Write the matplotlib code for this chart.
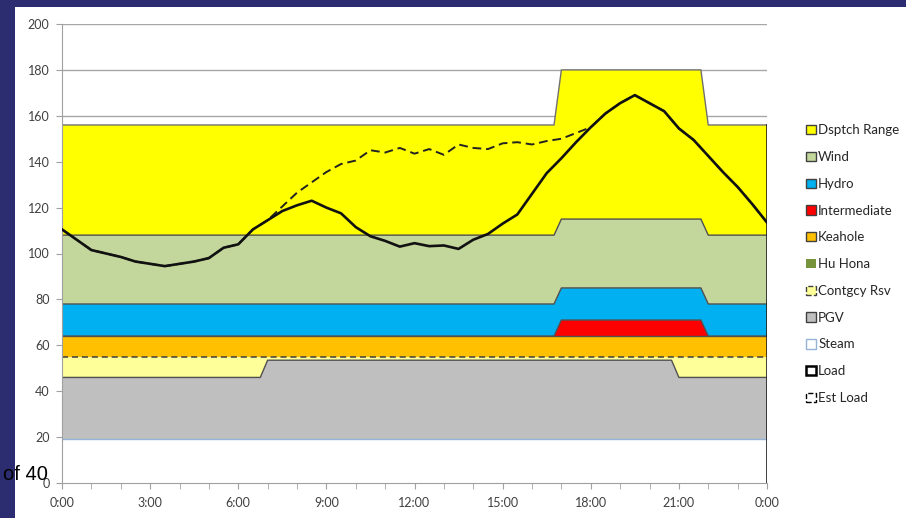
import numpy as np
import matplotlib
matplotlib.use('Agg')
import matplotlib.pyplot as plt
from matplotlib.patches import Patch, Rectangle

# stacked supply blocks, values at the ramp breakpoints (hours)
stack_hours = [0, 6.75, 7, 16.75, 17, 20.75, 21, 21.75, 22, 24]
steam = [19, 19, 19, 19, 19, 19, 19, 19, 19, 19]
pgv = [27, 27, 34.5, 34.5, 34.5, 34.5, 27, 27, 27, 27]
contgcy = [9, 9, 1.5, 1.5, 1.5, 1.5, 9, 9, 9, 9]
hu_hona = [0, 0, 0, 0, 0, 0, 0, 0, 0, 0]
keahole = [9, 9, 9, 9, 9, 9, 9, 9, 9, 9]
intermediate = [0, 0, 0, 0, 7, 7, 7, 7, 0, 0]
hydro = [14, 14, 14, 14, 14, 14, 14, 14, 14, 14]
wind = [30, 30, 30, 30, 30, 30, 30, 30, 30, 30]
dsptch = [48, 48, 48, 48, 65, 65, 65, 65, 48, 48]

# load curves, half-hourly 0:00 .. 24:00
load_hours = np.arange(0, 24.5, 0.5)
load = [110.5, 106, 101.5, 100, 98.5, 96.5, 95.5, 94.5, 95.5, 96.5,
        98, 102.5, 104, 110.5, 114.5, 118.5, 121, 123, 120, 117.5,
        111.5, 107.5, 105.5, 103, 104.5, 103.2, 103.5, 102, 106, 108.5,
        113, 117, 126, 135, 141.5, 148.5, 155, 161, 165.5, 169,
        165.5, 162, 154.5, 149.5, 142.5, 135.5, 129, 121.5, 113.5]
est_load = [110.5, 106, 101.5, 100, 98.5, 96.5, 95.5, 94.5, 95.5, 96.5,
            98, 102.5, 104, 110.5, 114.5, 120.5, 126.5, 131, 135.5, 139,
            140.5, 145, 144, 146, 143.5, 145.5, 143, 147.5, 146, 145.5,
            148, 148.5, 147.5, 149, 150, 152.5, 155, 161, 165.5, 169,
            165.5, 162, 154.5, 149.5, 142.5, 135.5, 129, 121.5, 113.5]

tick_hours = [0, 3, 6, 9, 12, 15, 18, 21, 24]
tick_labels = ['0:00', '3:00', '6:00', '9:00', '12:00', '15:00', '18:00', '21:00', '0:00']

layers = [
    ('Steam', steam, 'white', '#95B3D7', '-'),
    ('PGV', pgv, '#BFBFBF', '#505050', '-'),
    ('Contgcy Rsv', contgcy, '#FFFF99', '#404040', '--'),
    ('Hu Hona', hu_hona, '#77933C', '#505050', '-'),
    ('Keahole', keahole, '#FFC000', '#505050', '-'),
    ('Intermediate', intermediate, '#FF0000', '#505050', '-'),
    ('Hydro', hydro, '#00B0F0', '#505050', '-'),
    ('Wind', wind, '#C3D69B', '#505050', '-'),
    ('Dsptch Range', dsptch, '#FFFF00', '#707070', '-'),
]

fig = plt.figure(figsize=(9.06, 5.18), dpi=100)
fig.patch.set_facecolor('white')
navy = '#2C2D70'
fig.patches.append(Rectangle((0, 1 - 7 / 518), 1, 7 / 518, transform=fig.transFigure,
                             facecolor=navy, edgecolor='none', zorder=0))
fig.patches.append(Rectangle((0, 0), 15 / 906, 1, transform=fig.transFigure,
                             facecolor=navy, edgecolor='none', zorder=0))

ax = fig.add_axes([62 / 906, 1 - 483 / 518, 705 / 906, 459 / 518])
ax.set_facecolor('none')

base = np.zeros(len(stack_hours))
for name, vals, fc, ec, ls in layers:
    top = base + np.array(vals)
    if np.any(np.array(vals) > 0):
        ax.fill_between(stack_hours, base, top, facecolor=fc, edgecolor='none', zorder=1)
        ax.plot(stack_hours, top, color=ec, lw=1.0 if ls == '-' else 1.1,
                ls='-' if ls == '-' else (0, (4, 2.5)), zorder=2)
    base = top
ax.plot([24, 24], [0, base[-1]], color='#202020', lw=1.2, zorder=2)

ax.plot(load_hours, est_load, color='#222222', lw=1.4, ls=(0, (4.5, 2.5)), zorder=3)
ax.plot(load_hours, load, color='#111111', lw=1.9, zorder=4)

ax.set_xlim(0, 24)
ax.set_ylim(0, 200)
ax.set_yticks(range(0, 201, 20))
ax.set_xticks(tick_hours)
ax.set_xticklabels(tick_labels)
ax.set_xticks(range(0, 25), minor=True)
ax.yaxis.grid(True, color='#A6A6A6', lw=1.0)
ax.set_axisbelow(True)
for s in ['top', 'right']:
    ax.spines[s].set_visible(False)
for s in ['left', 'bottom']:
    ax.spines[s].set_color('#A0A0A0')
ax.tick_params(axis='both', which='both', colors='#A0A0A0', length=4, labelcolor='#404040',
               labelsize=9)
ax.tick_params(axis='x', pad=6)
ax.tick_params(axis='y', pad=5)
for lab in ax.get_xticklabels() + ax.get_yticklabels():
    lab.set_family('Lato')

handles = []
for name, vals, fc, ec, ls in reversed(layers):
    if name == 'Hu Hona':
        handles.append(Patch(facecolor=fc, edgecolor='none', label=name))
    elif name == 'Steam':
        handles.append(Patch(facecolor='white', edgecolor='#95B3D7', label=name))
    elif name == 'Contgcy Rsv':
        handles.append(Patch(facecolor=fc, edgecolor='#404040', ls='--', label=name))
    else:
        handles.append(Patch(facecolor=fc, edgecolor='#404040', label=name))
handles.append(Patch(facecolor='white', edgecolor='black', lw=1.8, label='Load'))
handles.append(Patch(facecolor='white', edgecolor='black', lw=1.0, ls='--', label='Est Load'))

leg = fig.legend(handles=handles, loc='upper left', bbox_to_anchor=(801 / 906, 1 - 119 / 518),
                 frameon=False, handlelength=0.7, handleheight=0.7,
                 handletextpad=0.2, labelspacing=1.12, borderaxespad=0,
                 prop={'family': 'Lato', 'size': 9.5})
for t in leg.get_texts():
    t.set_color('#262626')

fig.text(3 / 906, 1 - 480 / 518, 'of 40', fontsize=14.5, family='Liberation Sans',
         color='black', va='baseline', ha='left')

fig.savefig('out.png', dpi=100)
